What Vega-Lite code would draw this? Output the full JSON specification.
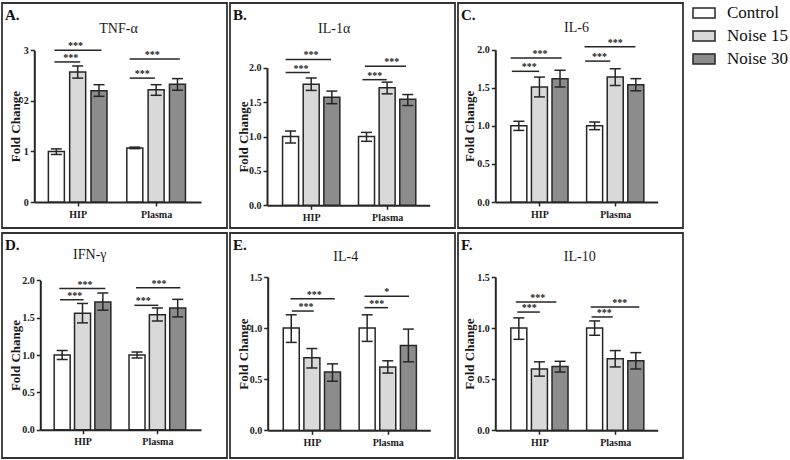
{
  "$schema": "https://vega.github.io/schema/vega-lite/v6.json",
  "background": "white",
  "padding": {"left": 1, "top": 1, "right": 0, "bottom": 0},
  "spacing": 3,
  "datasets": {
    "bars": [
      {"panel": "A", "group": "HIP", "cond": "Control", "x": 1, "mean": 1.0, "lo": 0.94, "hi": 1.05},
      {"panel": "A", "group": "HIP", "cond": "Noise 15", "x": 2, "mean": 2.57, "lo": 2.45, "hi": 2.69},
      {"panel": "A", "group": "HIP", "cond": "Noise 30", "x": 3, "mean": 2.2, "lo": 2.09, "hi": 2.32},
      {"panel": "A", "group": "Plasma", "cond": "Control", "x": 4.68, "mean": 1.07, "lo": 1.055, "hi": 1.085},
      {"panel": "A", "group": "Plasma", "cond": "Noise 15", "x": 5.68, "mean": 2.22, "lo": 2.11, "hi": 2.32},
      {"panel": "A", "group": "Plasma", "cond": "Noise 30", "x": 6.68, "mean": 2.33, "lo": 2.21, "hi": 2.44},
      {"panel": "B", "group": "HIP", "cond": "Control", "x": 1, "mean": 1.0, "lo": 0.905, "hi": 1.08},
      {"panel": "B", "group": "HIP", "cond": "Noise 15", "x": 2, "mean": 1.76, "lo": 1.67, "hi": 1.85},
      {"panel": "B", "group": "HIP", "cond": "Noise 30", "x": 3, "mean": 1.57, "lo": 1.477, "hi": 1.66},
      {"panel": "B", "group": "Plasma", "cond": "Control", "x": 4.68, "mean": 1.0, "lo": 0.93, "hi": 1.06},
      {"panel": "B", "group": "Plasma", "cond": "Noise 15", "x": 5.68, "mean": 1.71, "lo": 1.62, "hi": 1.79},
      {"panel": "B", "group": "Plasma", "cond": "Noise 30", "x": 6.68, "mean": 1.54, "lo": 1.45, "hi": 1.61},
      {"panel": "C", "group": "HIP", "cond": "Control", "x": 1, "mean": 1.0, "lo": 0.94, "hi": 1.06},
      {"panel": "C", "group": "HIP", "cond": "Noise 15", "x": 2, "mean": 1.51, "lo": 1.38, "hi": 1.64},
      {"panel": "C", "group": "HIP", "cond": "Noise 30", "x": 3, "mean": 1.62, "lo": 1.51, "hi": 1.73},
      {"panel": "C", "group": "Plasma", "cond": "Control", "x": 4.68, "mean": 1.0, "lo": 0.95, "hi": 1.05},
      {"panel": "C", "group": "Plasma", "cond": "Noise 15", "x": 5.68, "mean": 1.64, "lo": 1.53, "hi": 1.75},
      {"panel": "C", "group": "Plasma", "cond": "Noise 30", "x": 6.68, "mean": 1.54, "lo": 1.46, "hi": 1.62},
      {"panel": "D", "group": "HIP", "cond": "Control", "x": 1, "mean": 1.0, "lo": 0.94, "hi": 1.06},
      {"panel": "D", "group": "HIP", "cond": "Noise 15", "x": 2, "mean": 1.56, "lo": 1.43, "hi": 1.69},
      {"panel": "D", "group": "HIP", "cond": "Noise 30", "x": 3, "mean": 1.71, "lo": 1.6, "hi": 1.83},
      {"panel": "D", "group": "Plasma", "cond": "Control", "x": 4.68, "mean": 1.0, "lo": 0.96, "hi": 1.04},
      {"panel": "D", "group": "Plasma", "cond": "Noise 15", "x": 5.68, "mean": 1.54, "lo": 1.455, "hi": 1.63},
      {"panel": "D", "group": "Plasma", "cond": "Noise 30", "x": 6.68, "mean": 1.63, "lo": 1.51, "hi": 1.745},
      {"panel": "E", "group": "HIP", "cond": "Control", "x": 1, "mean": 1.0, "lo": 0.86, "hi": 1.13},
      {"panel": "E", "group": "HIP", "cond": "Noise 15", "x": 2, "mean": 0.71, "lo": 0.61, "hi": 0.8},
      {"panel": "E", "group": "HIP", "cond": "Noise 30", "x": 3, "mean": 0.57, "lo": 0.48, "hi": 0.65},
      {"panel": "E", "group": "Plasma", "cond": "Control", "x": 4.68, "mean": 1.0, "lo": 0.87, "hi": 1.13},
      {"panel": "E", "group": "Plasma", "cond": "Noise 15", "x": 5.68, "mean": 0.62, "lo": 0.56, "hi": 0.68},
      {"panel": "E", "group": "Plasma", "cond": "Noise 30", "x": 6.68, "mean": 0.83, "lo": 0.67, "hi": 0.99},
      {"panel": "F", "group": "HIP", "cond": "Control", "x": 1, "mean": 1.0, "lo": 0.89, "hi": 1.1},
      {"panel": "F", "group": "HIP", "cond": "Noise 15", "x": 2, "mean": 0.6, "lo": 0.53, "hi": 0.67},
      {"panel": "F", "group": "HIP", "cond": "Noise 30", "x": 3, "mean": 0.625, "lo": 0.57, "hi": 0.675},
      {"panel": "F", "group": "Plasma", "cond": "Control", "x": 4.68, "mean": 1.0, "lo": 0.93, "hi": 1.07},
      {"panel": "F", "group": "Plasma", "cond": "Noise 15", "x": 5.68, "mean": 0.7, "lo": 0.62, "hi": 0.78},
      {"panel": "F", "group": "Plasma", "cond": "Noise 30", "x": 6.68, "mean": 0.68, "lo": 0.6, "hi": 0.76}
    ],
    "brackets": [
      {"panel": "A", "x1": 0.91, "x2": 2.12, "xm": 1.68, "y": 2.77, "label": "***"},
      {"panel": "A", "x1": 0.91, "x2": 3.12, "xm": 1.9, "y": 3.0, "label": "***"},
      {"panel": "A", "x1": 4.44, "x2": 5.62, "xm": 5.03, "y": 2.45, "label": "***"},
      {"panel": "A", "x1": 4.44, "x2": 6.79, "xm": 5.5, "y": 2.83, "label": "***"},
      {"panel": "B", "x1": 0.76, "x2": 1.93, "xm": 1.51, "y": 1.93, "label": "***"},
      {"panel": "B", "x1": 0.76, "x2": 2.96, "xm": 1.99, "y": 2.12, "label": "***"},
      {"panel": "B", "x1": 4.48, "x2": 5.66, "xm": 5.08, "y": 1.826, "label": "***"},
      {"panel": "B", "x1": 4.6, "x2": 6.6, "xm": 5.9, "y": 2.02, "label": "***"},
      {"panel": "C", "x1": 0.66, "x2": 1.99, "xm": 1.5, "y": 1.716, "label": "***"},
      {"panel": "C", "x1": 0.6, "x2": 3.08, "xm": 2.03, "y": 1.89, "label": "***"},
      {"panel": "C", "x1": 4.22, "x2": 5.44, "xm": 4.92, "y": 1.85, "label": "***"},
      {"panel": "C", "x1": 4.19, "x2": 6.66, "xm": 5.68, "y": 2.04, "label": "***"},
      {"panel": "D", "x1": 0.89, "x2": 2.05, "xm": 1.62, "y": 1.74, "label": "***"},
      {"panel": "D", "x1": 0.86, "x2": 3.12, "xm": 2.12, "y": 1.89, "label": "***"},
      {"panel": "D", "x1": 4.55, "x2": 5.73, "xm": 4.99, "y": 1.665, "label": "***"},
      {"panel": "D", "x1": 4.63, "x2": 6.81, "xm": 5.76, "y": 1.9, "label": "***"},
      {"panel": "E", "x1": 1.03, "x2": 2.09, "xm": 1.71, "y": 1.167, "label": "***"},
      {"panel": "E", "x1": 0.96, "x2": 3.11, "xm": 2.12, "y": 1.288, "label": "***"},
      {"panel": "E", "x1": 4.55, "x2": 5.69, "xm": 5.15, "y": 1.2, "label": "***"},
      {"panel": "E", "x1": 4.55, "x2": 6.71, "xm": 5.63, "y": 1.311, "label": "*"},
      {"panel": "F", "x1": 0.93, "x2": 2.02, "xm": 1.5, "y": 1.157, "label": "***"},
      {"panel": "F", "x1": 0.85, "x2": 2.82, "xm": 1.92, "y": 1.255, "label": "***"},
      {"panel": "F", "x1": 4.53, "x2": 5.56, "xm": 5.15, "y": 1.109, "label": "***"},
      {"panel": "F", "x1": 4.49, "x2": 6.85, "xm": 5.9, "y": 1.206, "label": "***"}
    ]
  },
  "config": {
    "view": {"stroke": "#333333", "strokeWidth": 1.8},
    "font": "Liberation Serif",
    "axis": {"grid": false, "domainColor": "#262626", "domainWidth": 2, "tickColor": "#262626", "tickWidth": 1.5, "tickSize": 4, "labelFont": "Liberation Serif", "labelFontWeight": "bold", "labelFontSize": 10, "labelColor": "#1a1a1a", "labelPadding": 2, "labelOverlap": false, "titleFont": "Liberation Serif", "titleColor": "#1a1a1a"},
    "axisY": {"titleFontSize": 13, "titleFontWeight": "bold", "titleBaseline": "middle", "titleAngle": -90},
    "axisX": {"titleFontSize": 14, "titleFontWeight": "normal", "titleBaseline": "alphabetic", "titleAlign": "center", "labelPadding": 3, "labelFlush": false},
    "title": {"font": "Liberation Serif", "fontSize": 15, "fontWeight": "bold", "color": "#111111", "anchor": "start", "frame": "group", "offset": -20, "dx": 3},
    "concat": {"spacing": 1}
  },
  "vconcat": [
    {
      "hconcat": [
        {
          "width": 225, "height": 225,
          "title": {"text": "A."},
          "layer": [
            {"data": {"name": "bars"}, "transform": [{"filter": "datum.panel == 'A'"}],
             "mark": {"type": "bar", "width": 16, "stroke": "#262626", "strokeWidth": 1.5, "opacity": 1},
             "encoding": {
               "x": {"field": "x", "type": "quantitative", "scale": {"domain": [0.2, 7.55], "range": [32.3, 199], "nice": false, "zero": false},
                     "axis": {"values": [2, 5.68], "labelExpr": "datum.value < 4 ? 'HIP' : 'Plasma'", "offset": -26, "title": "TNF-α", "titleX": 116, "titleY": -169.5}},
               "y": {"field": "mean", "type": "quantitative", "stack": null, "scale": {"domain": [0, 3], "range": [199, 47.3], "nice": false, "zero": false},
                     "axis": {"values": [0, 1, 2, 3], "format": "d", "offset": -32.3, "title": "Fold Change", "titleX": -19.3}},
               "fill": {"field": "cond", "type": "nominal", "scale": {"domain": ["Control", "Noise 15", "Noise 30"], "range": ["#ffffff", "#d9d9d9", "#8c8c8c"]},
                        "legend": {"title": null, "orient": "none", "legendX": 690, "legendY": -2, "symbolType": "M-1,-0.45H1V0.45H-1Z", "symbolSize": 484, "symbolStrokeColor": "#262626", "symbolStrokeWidth": 1.5, "symbolOpacity": 1, "labelFont": "Liberation Serif", "labelFontSize": 17, "labelColor": "#111111", "labelOffset": 11, "rowPadding": 3, "padding": 0}}
             }},
            {"data": {"name": "bars"}, "transform": [{"filter": "datum.panel == 'A'"}],
             "mark": {"type": "rule", "stroke": "#262626", "strokeWidth": 1.5},
             "encoding": {
               "x": {"field": "x", "type": "quantitative", "scale": {"domain": [0.2, 7.55], "range": [32.3, 199], "nice": false, "zero": false}},
               "y": {"field": "lo", "type": "quantitative", "scale": {"domain": [0, 3], "range": [199, 47.3], "nice": false, "zero": false}},
               "y2": {"field": "hi"}}},
            {"data": {"name": "bars"}, "transform": [{"filter": "datum.panel == 'A'"}],
             "mark": {"type": "tick", "orient": "horizontal", "size": 11, "thickness": 1.5, "color": "#262626", "opacity": 1},
             "encoding": {
               "x": {"field": "x", "type": "quantitative", "scale": {"domain": [0.2, 7.55], "range": [32.3, 199], "nice": false, "zero": false}},
               "y": {"field": "lo", "type": "quantitative", "scale": {"domain": [0, 3], "range": [199, 47.3], "nice": false, "zero": false}}}},
            {"data": {"name": "bars"}, "transform": [{"filter": "datum.panel == 'A'"}],
             "mark": {"type": "tick", "orient": "horizontal", "size": 11, "thickness": 1.5, "color": "#262626", "opacity": 1},
             "encoding": {
               "x": {"field": "x", "type": "quantitative", "scale": {"domain": [0.2, 7.55], "range": [32.3, 199], "nice": false, "zero": false}},
               "y": {"field": "hi", "type": "quantitative", "scale": {"domain": [0, 3], "range": [199, 47.3], "nice": false, "zero": false}}}},
            {"data": {"name": "brackets"}, "transform": [{"filter": "datum.panel == 'A'"}],
             "mark": {"type": "rule", "stroke": "#262626", "strokeWidth": 1.5},
             "encoding": {
               "x": {"field": "x1", "type": "quantitative", "scale": {"domain": [0.2, 7.55], "range": [32.3, 199], "nice": false, "zero": false}},
               "x2": {"field": "x2"},
               "y": {"field": "y", "type": "quantitative", "scale": {"domain": [0, 3], "range": [199, 47.3], "nice": false, "zero": false}}}},
            {"data": {"name": "brackets"}, "transform": [{"filter": "datum.panel == 'A'"}],
             "mark": {"type": "text", "font": "Liberation Serif", "fontSize": 10, "fontWeight": "bold", "baseline": "alphabetic", "align": "center", "dy": -1, "color": "#1a1a1a"},
             "encoding": {
               "x": {"field": "xm", "type": "quantitative", "scale": {"domain": [0.2, 7.55], "range": [32.3, 199], "nice": false, "zero": false}},
               "y": {"field": "y", "type": "quantitative", "scale": {"domain": [0, 3], "range": [199, 47.3], "nice": false, "zero": false}},
               "text": {"field": "label"}}}
          ]
        },
        {
          "width": 225, "height": 225,
          "title": {"text": "B."},
          "layer": [
            {"data": {"name": "bars"}, "transform": [{"filter": "datum.panel == 'B'"}],
             "mark": {"type": "bar", "width": 16, "stroke": "#262626", "strokeWidth": 1.5, "opacity": 1},
             "encoding": {
               "x": {"field": "x", "type": "quantitative", "scale": {"domain": [0.1, 7.5], "range": [37, 199.7], "nice": false, "zero": false},
                     "axis": {"values": [2, 5.68], "labelExpr": "datum.value < 4 ? 'HIP' : 'Plasma'", "offset": -22.7, "title": "IL-1α", "titleX": 103.7, "titleY": -173.3}},
               "y": {"field": "mean", "type": "quantitative", "stack": null, "scale": {"domain": [0, 2], "range": [202.3, 64.7], "nice": false, "zero": false},
                     "axis": {"values": [0, 0.5, 1, 1.5, 2], "format": ".1f", "offset": -37, "title": "Fold Change", "titleX": -23.5}},
               "fill": {"field": "cond", "type": "nominal", "scale": {"domain": ["Control", "Noise 15", "Noise 30"], "range": ["#ffffff", "#d9d9d9", "#8c8c8c"]},
                        "legend": {"title": null, "orient": "none", "legendX": 690, "legendY": -2, "symbolType": "M-1,-0.45H1V0.45H-1Z", "symbolSize": 484, "symbolStrokeColor": "#262626", "symbolStrokeWidth": 1.5, "symbolOpacity": 1, "labelFont": "Liberation Serif", "labelFontSize": 17, "labelColor": "#111111", "labelOffset": 11, "rowPadding": 3, "padding": 0}}
             }},
            {"data": {"name": "bars"}, "transform": [{"filter": "datum.panel == 'B'"}],
             "mark": {"type": "rule", "stroke": "#262626", "strokeWidth": 1.5},
             "encoding": {
               "x": {"field": "x", "type": "quantitative", "scale": {"domain": [0.1, 7.5], "range": [37, 199.7], "nice": false, "zero": false}},
               "y": {"field": "lo", "type": "quantitative", "scale": {"domain": [0, 2], "range": [202.3, 64.7], "nice": false, "zero": false}},
               "y2": {"field": "hi"}}},
            {"data": {"name": "bars"}, "transform": [{"filter": "datum.panel == 'B'"}],
             "mark": {"type": "tick", "orient": "horizontal", "size": 11, "thickness": 1.5, "color": "#262626", "opacity": 1},
             "encoding": {
               "x": {"field": "x", "type": "quantitative", "scale": {"domain": [0.1, 7.5], "range": [37, 199.7], "nice": false, "zero": false}},
               "y": {"field": "lo", "type": "quantitative", "scale": {"domain": [0, 2], "range": [202.3, 64.7], "nice": false, "zero": false}}}},
            {"data": {"name": "bars"}, "transform": [{"filter": "datum.panel == 'B'"}],
             "mark": {"type": "tick", "orient": "horizontal", "size": 11, "thickness": 1.5, "color": "#262626", "opacity": 1},
             "encoding": {
               "x": {"field": "x", "type": "quantitative", "scale": {"domain": [0.1, 7.5], "range": [37, 199.7], "nice": false, "zero": false}},
               "y": {"field": "hi", "type": "quantitative", "scale": {"domain": [0, 2], "range": [202.3, 64.7], "nice": false, "zero": false}}}},
            {"data": {"name": "brackets"}, "transform": [{"filter": "datum.panel == 'B'"}],
             "mark": {"type": "rule", "stroke": "#262626", "strokeWidth": 1.5},
             "encoding": {
               "x": {"field": "x1", "type": "quantitative", "scale": {"domain": [0.1, 7.5], "range": [37, 199.7], "nice": false, "zero": false}},
               "x2": {"field": "x2"},
               "y": {"field": "y", "type": "quantitative", "scale": {"domain": [0, 2], "range": [202.3, 64.7], "nice": false, "zero": false}}}},
            {"data": {"name": "brackets"}, "transform": [{"filter": "datum.panel == 'B'"}],
             "mark": {"type": "text", "font": "Liberation Serif", "fontSize": 10, "fontWeight": "bold", "baseline": "alphabetic", "align": "center", "dy": -1, "color": "#1a1a1a"},
             "encoding": {
               "x": {"field": "xm", "type": "quantitative", "scale": {"domain": [0.1, 7.5], "range": [37, 199.7], "nice": false, "zero": false}},
               "y": {"field": "y", "type": "quantitative", "scale": {"domain": [0, 2], "range": [202.3, 64.7], "nice": false, "zero": false}},
               "text": {"field": "label"}}}
          ]
        },
        {
          "width": 225, "height": 225,
          "title": {"text": "C."},
          "layer": [
            {"data": {"name": "bars"}, "transform": [{"filter": "datum.panel == 'C'"}],
             "mark": {"type": "bar", "width": 16, "stroke": "#262626", "strokeWidth": 1.5, "opacity": 1},
             "encoding": {
               "x": {"field": "x", "type": "quantitative", "scale": {"domain": [0.1, 7.5], "range": [37.3, 199.7], "nice": false, "zero": false},
                     "axis": {"values": [2, 5.68], "labelExpr": "datum.value < 4 ? 'HIP' : 'Plasma'", "offset": -26, "title": "IL-6", "titleX": 118, "titleY": -170.7}},
               "y": {"field": "mean", "type": "quantitative", "stack": null, "scale": {"domain": [0, 2], "range": [199, 46.7], "nice": false, "zero": false},
                     "axis": {"values": [0, 0.5, 1, 1.5, 2], "format": ".1f", "offset": -37.3, "title": "Fold Change", "titleX": -25.5}},
               "fill": {"field": "cond", "type": "nominal", "scale": {"domain": ["Control", "Noise 15", "Noise 30"], "range": ["#ffffff", "#d9d9d9", "#8c8c8c"]},
                        "legend": {"title": null, "orient": "none", "legendX": 690, "legendY": -2, "symbolType": "M-1,-0.45H1V0.45H-1Z", "symbolSize": 484, "symbolStrokeColor": "#262626", "symbolStrokeWidth": 1.5, "symbolOpacity": 1, "labelFont": "Liberation Serif", "labelFontSize": 17, "labelColor": "#111111", "labelOffset": 11, "rowPadding": 3, "padding": 0}}
             }},
            {"data": {"name": "bars"}, "transform": [{"filter": "datum.panel == 'C'"}],
             "mark": {"type": "rule", "stroke": "#262626", "strokeWidth": 1.5},
             "encoding": {
               "x": {"field": "x", "type": "quantitative", "scale": {"domain": [0.1, 7.5], "range": [37.3, 199.7], "nice": false, "zero": false}},
               "y": {"field": "lo", "type": "quantitative", "scale": {"domain": [0, 2], "range": [199, 46.7], "nice": false, "zero": false}},
               "y2": {"field": "hi"}}},
            {"data": {"name": "bars"}, "transform": [{"filter": "datum.panel == 'C'"}],
             "mark": {"type": "tick", "orient": "horizontal", "size": 11, "thickness": 1.5, "color": "#262626", "opacity": 1},
             "encoding": {
               "x": {"field": "x", "type": "quantitative", "scale": {"domain": [0.1, 7.5], "range": [37.3, 199.7], "nice": false, "zero": false}},
               "y": {"field": "lo", "type": "quantitative", "scale": {"domain": [0, 2], "range": [199, 46.7], "nice": false, "zero": false}}}},
            {"data": {"name": "bars"}, "transform": [{"filter": "datum.panel == 'C'"}],
             "mark": {"type": "tick", "orient": "horizontal", "size": 11, "thickness": 1.5, "color": "#262626", "opacity": 1},
             "encoding": {
               "x": {"field": "x", "type": "quantitative", "scale": {"domain": [0.1, 7.5], "range": [37.3, 199.7], "nice": false, "zero": false}},
               "y": {"field": "hi", "type": "quantitative", "scale": {"domain": [0, 2], "range": [199, 46.7], "nice": false, "zero": false}}}},
            {"data": {"name": "brackets"}, "transform": [{"filter": "datum.panel == 'C'"}],
             "mark": {"type": "rule", "stroke": "#262626", "strokeWidth": 1.5},
             "encoding": {
               "x": {"field": "x1", "type": "quantitative", "scale": {"domain": [0.1, 7.5], "range": [37.3, 199.7], "nice": false, "zero": false}},
               "x2": {"field": "x2"},
               "y": {"field": "y", "type": "quantitative", "scale": {"domain": [0, 2], "range": [199, 46.7], "nice": false, "zero": false}}}},
            {"data": {"name": "brackets"}, "transform": [{"filter": "datum.panel == 'C'"}],
             "mark": {"type": "text", "font": "Liberation Serif", "fontSize": 10, "fontWeight": "bold", "baseline": "alphabetic", "align": "center", "dy": -1, "color": "#1a1a1a"},
             "encoding": {
               "x": {"field": "xm", "type": "quantitative", "scale": {"domain": [0.1, 7.5], "range": [37.3, 199.7], "nice": false, "zero": false}},
               "y": {"field": "y", "type": "quantitative", "scale": {"domain": [0, 2], "range": [199, 46.7], "nice": false, "zero": false}},
               "text": {"field": "label"}}}
          ]
        }
      ]
    },
    {
      "hconcat": [
        {
          "width": 225, "height": 225,
          "title": {"text": "D."},
          "layer": [
            {"data": {"name": "bars"}, "transform": [{"filter": "datum.panel == 'D'"}],
             "mark": {"type": "bar", "width": 16, "stroke": "#262626", "strokeWidth": 1.5, "opacity": 1},
             "encoding": {
               "x": {"field": "x", "type": "quantitative", "scale": {"domain": [0.17, 7.58], "range": [38.3, 199], "nice": false, "zero": false},
                     "axis": {"values": [2, 5.68], "labelExpr": "datum.value < 4 ? 'HIP' : 'Plasma'", "offset": -28.3, "title": "IFN-γ", "titleX": 87.3, "titleY": -171}},
               "y": {"field": "mean", "type": "quantitative", "stack": null, "scale": {"domain": [0, 2], "range": [196.7, 47.3], "nice": false, "zero": false},
                     "axis": {"values": [0, 0.5, 1, 1.5, 2], "format": ".1f", "offset": -38.3, "title": "Fold Change", "titleX": -25.3}},
               "fill": {"field": "cond", "type": "nominal", "scale": {"domain": ["Control", "Noise 15", "Noise 30"], "range": ["#ffffff", "#d9d9d9", "#8c8c8c"]},
                        "legend": {"title": null, "orient": "none", "legendX": 690, "legendY": -2, "symbolType": "M-1,-0.45H1V0.45H-1Z", "symbolSize": 484, "symbolStrokeColor": "#262626", "symbolStrokeWidth": 1.5, "symbolOpacity": 1, "labelFont": "Liberation Serif", "labelFontSize": 17, "labelColor": "#111111", "labelOffset": 11, "rowPadding": 3, "padding": 0}}
             }},
            {"data": {"name": "bars"}, "transform": [{"filter": "datum.panel == 'D'"}],
             "mark": {"type": "rule", "stroke": "#262626", "strokeWidth": 1.5},
             "encoding": {
               "x": {"field": "x", "type": "quantitative", "scale": {"domain": [0.17, 7.58], "range": [38.3, 199], "nice": false, "zero": false}},
               "y": {"field": "lo", "type": "quantitative", "scale": {"domain": [0, 2], "range": [196.7, 47.3], "nice": false, "zero": false}},
               "y2": {"field": "hi"}}},
            {"data": {"name": "bars"}, "transform": [{"filter": "datum.panel == 'D'"}],
             "mark": {"type": "tick", "orient": "horizontal", "size": 11, "thickness": 1.5, "color": "#262626", "opacity": 1},
             "encoding": {
               "x": {"field": "x", "type": "quantitative", "scale": {"domain": [0.17, 7.58], "range": [38.3, 199], "nice": false, "zero": false}},
               "y": {"field": "lo", "type": "quantitative", "scale": {"domain": [0, 2], "range": [196.7, 47.3], "nice": false, "zero": false}}}},
            {"data": {"name": "bars"}, "transform": [{"filter": "datum.panel == 'D'"}],
             "mark": {"type": "tick", "orient": "horizontal", "size": 11, "thickness": 1.5, "color": "#262626", "opacity": 1},
             "encoding": {
               "x": {"field": "x", "type": "quantitative", "scale": {"domain": [0.17, 7.58], "range": [38.3, 199], "nice": false, "zero": false}},
               "y": {"field": "hi", "type": "quantitative", "scale": {"domain": [0, 2], "range": [196.7, 47.3], "nice": false, "zero": false}}}},
            {"data": {"name": "brackets"}, "transform": [{"filter": "datum.panel == 'D'"}],
             "mark": {"type": "rule", "stroke": "#262626", "strokeWidth": 1.5},
             "encoding": {
               "x": {"field": "x1", "type": "quantitative", "scale": {"domain": [0.17, 7.58], "range": [38.3, 199], "nice": false, "zero": false}},
               "x2": {"field": "x2"},
               "y": {"field": "y", "type": "quantitative", "scale": {"domain": [0, 2], "range": [196.7, 47.3], "nice": false, "zero": false}}}},
            {"data": {"name": "brackets"}, "transform": [{"filter": "datum.panel == 'D'"}],
             "mark": {"type": "text", "font": "Liberation Serif", "fontSize": 10, "fontWeight": "bold", "baseline": "alphabetic", "align": "center", "dy": -1, "color": "#1a1a1a"},
             "encoding": {
               "x": {"field": "xm", "type": "quantitative", "scale": {"domain": [0.17, 7.58], "range": [38.3, 199], "nice": false, "zero": false}},
               "y": {"field": "y", "type": "quantitative", "scale": {"domain": [0, 2], "range": [196.7, 47.3], "nice": false, "zero": false}},
               "text": {"field": "label"}}}
          ]
        },
        {
          "width": 225, "height": 225,
          "title": {"text": "E."},
          "layer": [
            {"data": {"name": "bars"}, "transform": [{"filter": "datum.panel == 'E'"}],
             "mark": {"type": "bar", "width": 16, "stroke": "#262626", "strokeWidth": 1.5, "opacity": 1},
             "encoding": {
               "x": {"field": "x", "type": "quantitative", "scale": {"domain": [0.1, 7.5], "range": [37.7, 200.3], "nice": false, "zero": false},
                     "axis": {"values": [2, 5.68], "labelExpr": "datum.value < 4 ? 'HIP' : 'Plasma'", "offset": -27.7, "title": "IL-4", "titleX": 115.3, "titleY": -170}},
               "y": {"field": "mean", "type": "quantitative", "stack": null, "scale": {"domain": [0, 1.5], "range": [197.3, 44], "nice": false, "zero": false},
                     "axis": {"values": [0, 0.5, 1, 1.5], "format": ".1f", "offset": -37.7, "title": "Fold Change", "titleX": -24.2}},
               "fill": {"field": "cond", "type": "nominal", "scale": {"domain": ["Control", "Noise 15", "Noise 30"], "range": ["#ffffff", "#d9d9d9", "#8c8c8c"]},
                        "legend": {"title": null, "orient": "none", "legendX": 690, "legendY": -2, "symbolType": "M-1,-0.45H1V0.45H-1Z", "symbolSize": 484, "symbolStrokeColor": "#262626", "symbolStrokeWidth": 1.5, "symbolOpacity": 1, "labelFont": "Liberation Serif", "labelFontSize": 17, "labelColor": "#111111", "labelOffset": 11, "rowPadding": 3, "padding": 0}}
             }},
            {"data": {"name": "bars"}, "transform": [{"filter": "datum.panel == 'E'"}],
             "mark": {"type": "rule", "stroke": "#262626", "strokeWidth": 1.5},
             "encoding": {
               "x": {"field": "x", "type": "quantitative", "scale": {"domain": [0.1, 7.5], "range": [37.7, 200.3], "nice": false, "zero": false}},
               "y": {"field": "lo", "type": "quantitative", "scale": {"domain": [0, 1.5], "range": [197.3, 44], "nice": false, "zero": false}},
               "y2": {"field": "hi"}}},
            {"data": {"name": "bars"}, "transform": [{"filter": "datum.panel == 'E'"}],
             "mark": {"type": "tick", "orient": "horizontal", "size": 11, "thickness": 1.5, "color": "#262626", "opacity": 1},
             "encoding": {
               "x": {"field": "x", "type": "quantitative", "scale": {"domain": [0.1, 7.5], "range": [37.7, 200.3], "nice": false, "zero": false}},
               "y": {"field": "lo", "type": "quantitative", "scale": {"domain": [0, 1.5], "range": [197.3, 44], "nice": false, "zero": false}}}},
            {"data": {"name": "bars"}, "transform": [{"filter": "datum.panel == 'E'"}],
             "mark": {"type": "tick", "orient": "horizontal", "size": 11, "thickness": 1.5, "color": "#262626", "opacity": 1},
             "encoding": {
               "x": {"field": "x", "type": "quantitative", "scale": {"domain": [0.1, 7.5], "range": [37.7, 200.3], "nice": false, "zero": false}},
               "y": {"field": "hi", "type": "quantitative", "scale": {"domain": [0, 1.5], "range": [197.3, 44], "nice": false, "zero": false}}}},
            {"data": {"name": "brackets"}, "transform": [{"filter": "datum.panel == 'E'"}],
             "mark": {"type": "rule", "stroke": "#262626", "strokeWidth": 1.5},
             "encoding": {
               "x": {"field": "x1", "type": "quantitative", "scale": {"domain": [0.1, 7.5], "range": [37.7, 200.3], "nice": false, "zero": false}},
               "x2": {"field": "x2"},
               "y": {"field": "y", "type": "quantitative", "scale": {"domain": [0, 1.5], "range": [197.3, 44], "nice": false, "zero": false}}}},
            {"data": {"name": "brackets"}, "transform": [{"filter": "datum.panel == 'E'"}],
             "mark": {"type": "text", "font": "Liberation Serif", "fontSize": 10, "fontWeight": "bold", "baseline": "alphabetic", "align": "center", "dy": -1, "color": "#1a1a1a"},
             "encoding": {
               "x": {"field": "xm", "type": "quantitative", "scale": {"domain": [0.1, 7.5], "range": [37.7, 200.3], "nice": false, "zero": false}},
               "y": {"field": "y", "type": "quantitative", "scale": {"domain": [0, 1.5], "range": [197.3, 44], "nice": false, "zero": false}},
               "text": {"field": "label"}}}
          ]
        },
        {
          "width": 225, "height": 225,
          "title": {"text": "F."},
          "layer": [
            {"data": {"name": "bars"}, "transform": [{"filter": "datum.panel == 'F'"}],
             "mark": {"type": "bar", "width": 16, "stroke": "#262626", "strokeWidth": 1.5, "opacity": 1},
             "encoding": {
               "x": {"field": "x", "type": "quantitative", "scale": {"domain": [0.1, 7.5], "range": [37.3, 199.7], "nice": false, "zero": false},
                     "axis": {"values": [2, 5.68], "labelExpr": "datum.value < 4 ? 'HIP' : 'Plasma'", "offset": -27.7, "title": "IL-10", "titleX": 121.3, "titleY": -170}},
               "y": {"field": "mean", "type": "quantitative", "stack": null, "scale": {"domain": [0, 1.5], "range": [197.3, 44], "nice": false, "zero": false},
                     "axis": {"values": [0, 0.5, 1, 1.5], "format": ".1f", "offset": -37.3, "title": "Fold Change", "titleX": -25.5}},
               "fill": {"field": "cond", "type": "nominal", "scale": {"domain": ["Control", "Noise 15", "Noise 30"], "range": ["#ffffff", "#d9d9d9", "#8c8c8c"]},
                        "legend": {"title": null, "orient": "none", "legendX": 690, "legendY": -2, "symbolType": "M-1,-0.45H1V0.45H-1Z", "symbolSize": 484, "symbolStrokeColor": "#262626", "symbolStrokeWidth": 1.5, "symbolOpacity": 1, "labelFont": "Liberation Serif", "labelFontSize": 17, "labelColor": "#111111", "labelOffset": 11, "rowPadding": 3, "padding": 0}}
             }},
            {"data": {"name": "bars"}, "transform": [{"filter": "datum.panel == 'F'"}],
             "mark": {"type": "rule", "stroke": "#262626", "strokeWidth": 1.5},
             "encoding": {
               "x": {"field": "x", "type": "quantitative", "scale": {"domain": [0.1, 7.5], "range": [37.3, 199.7], "nice": false, "zero": false}},
               "y": {"field": "lo", "type": "quantitative", "scale": {"domain": [0, 1.5], "range": [197.3, 44], "nice": false, "zero": false}},
               "y2": {"field": "hi"}}},
            {"data": {"name": "bars"}, "transform": [{"filter": "datum.panel == 'F'"}],
             "mark": {"type": "tick", "orient": "horizontal", "size": 11, "thickness": 1.5, "color": "#262626", "opacity": 1},
             "encoding": {
               "x": {"field": "x", "type": "quantitative", "scale": {"domain": [0.1, 7.5], "range": [37.3, 199.7], "nice": false, "zero": false}},
               "y": {"field": "lo", "type": "quantitative", "scale": {"domain": [0, 1.5], "range": [197.3, 44], "nice": false, "zero": false}}}},
            {"data": {"name": "bars"}, "transform": [{"filter": "datum.panel == 'F'"}],
             "mark": {"type": "tick", "orient": "horizontal", "size": 11, "thickness": 1.5, "color": "#262626", "opacity": 1},
             "encoding": {
               "x": {"field": "x", "type": "quantitative", "scale": {"domain": [0.1, 7.5], "range": [37.3, 199.7], "nice": false, "zero": false}},
               "y": {"field": "hi", "type": "quantitative", "scale": {"domain": [0, 1.5], "range": [197.3, 44], "nice": false, "zero": false}}}},
            {"data": {"name": "brackets"}, "transform": [{"filter": "datum.panel == 'F'"}],
             "mark": {"type": "rule", "stroke": "#262626", "strokeWidth": 1.5},
             "encoding": {
               "x": {"field": "x1", "type": "quantitative", "scale": {"domain": [0.1, 7.5], "range": [37.3, 199.7], "nice": false, "zero": false}},
               "x2": {"field": "x2"},
               "y": {"field": "y", "type": "quantitative", "scale": {"domain": [0, 1.5], "range": [197.3, 44], "nice": false, "zero": false}}}},
            {"data": {"name": "brackets"}, "transform": [{"filter": "datum.panel == 'F'"}],
             "mark": {"type": "text", "font": "Liberation Serif", "fontSize": 10, "fontWeight": "bold", "baseline": "alphabetic", "align": "center", "dy": -1, "color": "#1a1a1a"},
             "encoding": {
               "x": {"field": "xm", "type": "quantitative", "scale": {"domain": [0.1, 7.5], "range": [37.3, 199.7], "nice": false, "zero": false}},
               "y": {"field": "y", "type": "quantitative", "scale": {"domain": [0, 1.5], "range": [197.3, 44], "nice": false, "zero": false}},
               "text": {"field": "label"}}}
          ]
        }
      ]
    }
  ]
}
